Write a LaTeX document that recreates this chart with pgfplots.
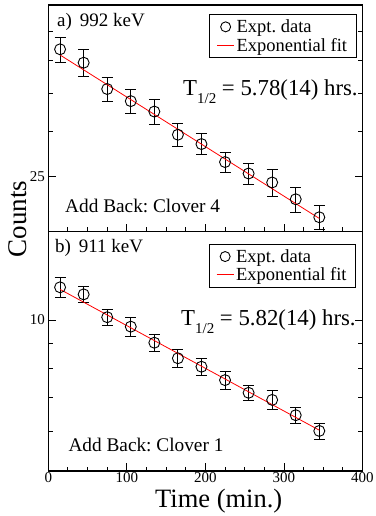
\documentclass[border=0pt]{standalone}
\usepackage{fontspec}
\setmainfont{Liberation Serif}
\usepackage{pgfplots}
\pgfplotsset{compat=1.18}
\begin{document}
\frenchspacing
\begin{tikzpicture}
\path[use as bounding box] (0,0) rectangle (376bp,516bp);
% top panel
\begin{axis}[
  scale only axis, width=314.2bp, height=226.7bp,
  at={(48.3bp,284.3bp)}, anchor=south west,
  xmin=0, xmax=400, ymode=log, ymin=20, ymax=50,
  xtick={0,100,200,300,400},
  minor xtick={25,50,75,125,150,175,225,250,275,325,350,375},
  xtick pos=bottom, xticklabels={},
  ytick={25}, yticklabels={25}, minor ytick={30,35,40,45},
  major tick length=8bp, minor tick length=4.5bp,
  tick style={black, line width=0.9bp},
  axis line style={line width=1.1bp},
  ticklabel style={font=\fontsize{15bp}{15bp}\selectfont},
  legend cell align=left,
  legend style={draw=black, line width=0.8bp, font=\fontsize{18.5bp}{21bp}\selectfont,
    inner xsep=7bp, inner ysep=3bp,
    at={(1,1)}, anchor=north east, xshift=-6bp, yshift=-9.3bp},
]
\addlegendimage{only marks, mark=o, black, mark size=5bp, mark options={line width=0.9bp}}
\addlegendentry{Expt. data}
\addlegendimage{line legend, red, line width=1bp, no marks}
\addlegendentry{Exponential fit}
\addplot[forget plot, only marks, black, mark=o, mark size=5.5bp, line width=0.9bp,
  error bars/y dir=both, error bars/y explicit,
  error bars/error bar style={line width=0.9bp},
  error bars/error mark options={rotate=90, mark size=5.5bp, line width=0.9bp}] coordinates {
 (15,41.8) +- (0,2.1)
 (45,39.6) +- (0,2.1)
 (75,35.6) +- (0,1.7)
 (105,33.9) +- (0,1.6)
 (135,32.5) +- (0,1.6)
 (165,29.6) +- (0,1.4)
 (195,28.5) +- (0,1.2)
 (225,26.5) +- (0,1.1)
 (255,25.3) +- (0,1.1)
 (285,24.4) +- (0,1.3)
 (315,22.8) +- (0,1.15)
 (345,21.2) +- (0,1.05)
};
\addplot[forget plot, red, line width=0.8bp, no marks] coordinates {(15,40.85) (345,21.1)};
\end{axis}
% bottom panel
\begin{axis}[
  scale only axis, width=314.2bp, height=239.3bp,
  at={(48.3bp,45bp)}, anchor=south west,
  xmin=0, xmax=400, ymode=log, ymin=5, ymax=15,
  xtick={0,100,200,300,400},
  minor xtick={25,50,75,125,150,175,225,250,275,325,350,375},
  xtick pos=bottom, xticklabels={0,100,200,300,400},
  xticklabel style={yshift=2bp},
  ytick={10}, yticklabels={10}, minor ytick={6,7,8,9},
  major tick length=8bp, minor tick length=4.5bp,
  tick style={black, line width=0.9bp},
  axis line style={line width=1.1bp},
  ticklabel style={font=\fontsize{15bp}{15bp}\selectfont},
  legend cell align=left,
  legend style={draw=black, line width=0.8bp, font=\fontsize{18.5bp}{21bp}\selectfont,
    inner xsep=7bp, inner ysep=3bp,
    at={(1,1)}, anchor=north east, xshift=-6.5bp, yshift=-12.3bp},
]
\addlegendimage{only marks, mark=o, black, mark size=5bp, mark options={line width=0.9bp}}
\addlegendentry{Expt. data}
\addlegendimage{line legend, red, line width=1bp, no marks}
\addlegendentry{Exponential fit}
\addplot[forget plot, only marks, black, mark=o, mark size=5.5bp, line width=0.9bp,
  error bars/y dir=both, error bars/y explicit,
  error bars/error bar style={line width=0.9bp},
  error bars/error mark options={rotate=90, mark size=5.5bp, line width=0.9bp}] coordinates {
 (15,11.62) +- (0,0.52)
 (45,11.25) +- (0,0.42)
 (75,10.13) +- (0,0.37)
 (105,9.70) +- (0,0.42)
 (135,9.01) +- (0,0.35)
 (165,8.39) +- (0,0.33)
 (195,8.07) +- (0,0.31)
 (225,7.59) +- (0,0.31)
 (255,7.16) +- (0,0.26)
 (285,6.93) +- (0,0.31)
 (315,6.46) +- (0,0.24)
 (345,6.01) +- (0,0.22)
};
\addplot[forget plot, red, line width=0.8bp, no marks] coordinates {(15,11.51) (345,6.03)};
\end{axis}
% annotations
\node[anchor=base west, inner sep=0] at (57bp,489.3bp) {\fontsize{19bp}{19bp}\selectfont a)\, 992 keV};
\node[anchor=base west, inner sep=0] at (55bp,263.3bp) {\fontsize{19bp}{19bp}\selectfont b)\, 911 keV};
\node[anchor=base west, inner sep=0] at (183bp,420bp) {\fontsize{22.8bp}{22.8bp}\selectfont T\raisebox{-8bp}{\fontsize{15bp}{15bp}\selectfont 1/2} = 5.78(14) hrs.};
\node[anchor=base west, inner sep=0] at (181bp,190.5bp) {\fontsize{22.8bp}{22.8bp}\selectfont T\raisebox{-8bp}{\fontsize{15bp}{15bp}\selectfont 1/2} = 5.82(14) hrs.};
\node[anchor=base west, inner sep=0] at (65bp,303.3bp) {\fontsize{19.3bp}{19.3bp}\selectfont Add Back: Clover 4};
\node[anchor=base west, inner sep=0] at (68.3bp,64.3bp) {\fontsize{19.3bp}{19.3bp}\selectfont Add Back: Clover 1};
\node[rotate=90, inner sep=0] at (18bp,297bp) {\fontsize{27bp}{27bp}\selectfont Counts};
\node[inner sep=0, anchor=base] at (218.7bp,9bp) {\fontsize{26.5bp}{26.5bp}\selectfont Time (min.)};
\end{tikzpicture}
\end{document}
